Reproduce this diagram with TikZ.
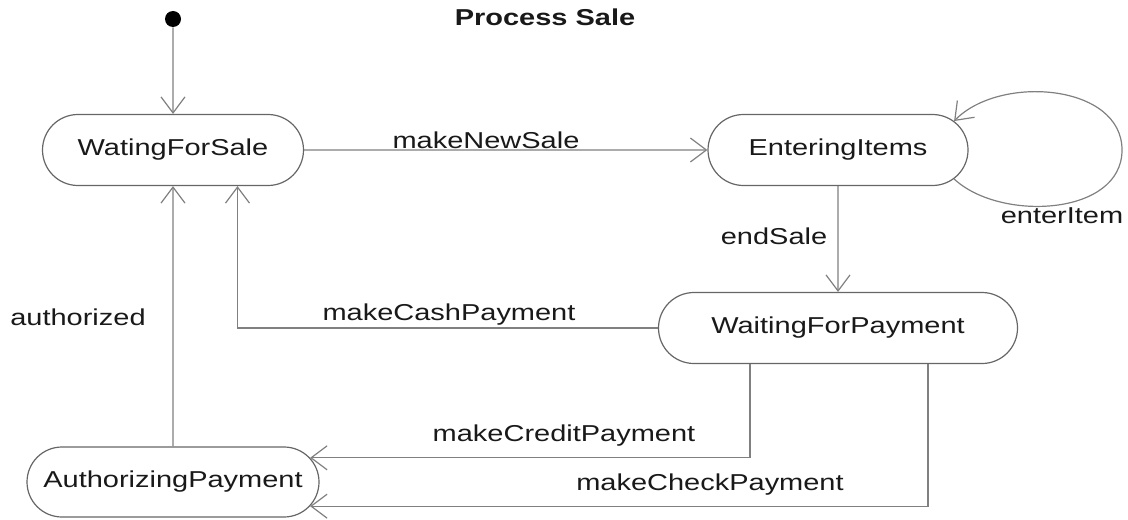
\documentclass[tikz,border=0pt]{standalone}
\usepackage{fontspec}
\setmainfont{Liberation Sans}
\usetikzlibrary{shapes.misc,arrows.meta,calc}
\newcommand{\wide}[1]{\scalebox{1.26}[1]{#1}}
\begin{document}
\begin{tikzpicture}[x=0.5pt,y=-0.5pt,
  state/.style={rounded rectangle, draw=black!60, line width=0.6pt, minimum height=35.5pt,
    inner sep=0pt, font=\fontsize{11.5}{13}\selectfont, text=black!90},
  conn/.style={draw=black!50, line width=0.6pt},
  arr/.style={conn, -{Straight Barb[length=8pt,width=12pt]}},
  lbl/.style={font=\fontsize{11.5}{13}\selectfont, text=black!90, inner sep=0pt}]
\useasboundingbox (0,0) rectangle (1128,519);

\node[circle, fill=black, minimum size=8pt, inner sep=0pt] (init) at (173,19) {};
\node[state, minimum width=130.5pt] (wfs) at (173,150) {\wide{WatingForSale}};
\node[state, minimum width=130pt] (ei) at (838,150) {\wide{EnteringItems}};
\node[state, minimum width=179.5pt] (wfp) at (838,328) {\wide{WaitingForPayment}};
\node[state, minimum width=146pt, minimum height=35pt] (ap) at (173,482) {\wide{AuthorizingPayment}};

\node[lbl] (title) at (545,17) {\bfseries\wide{Process Sale}};

\draw[arr] (init) -- (wfs);
\draw[arr] (wfs) -- (ei);
\draw[arr] (ei.-14) .. controls (1000,222) and (1122,216) .. (1122,150)
  .. controls (1122,84) and (1000,74) .. (ei.14);
\draw[arr] (ei) -- (wfp);
\draw[arr] (wfp.west) -| ([xshift=32.25pt]wfs.south);
\draw[arr] (ap) -- (wfs);
\draw[arr] ([xshift=-44pt]wfp.south) |- (ap.10);
\draw[arr] ([xshift=45pt]wfp.south) |- (ap.-10);

\node[lbl] (l1) at (486,140) {\wide{makeNewSale}};
\node[lbl] (l2) at (1062,216) {\wide{enterItem}};
\node[lbl] (l3) at (774,236) {\wide{endSale}};
\node[lbl] (l4) at (449,315) {\wide{makeCashPayment}};
\node[lbl] (l5) at (78,317) {\wide{authorized}};
\node[lbl] (l6) at (564,436) {\wide{makeCreditPayment}};
\node[lbl] (l7) at (710,485) {\wide{makeCheckPayment}};
\end{tikzpicture}
\end{document}
